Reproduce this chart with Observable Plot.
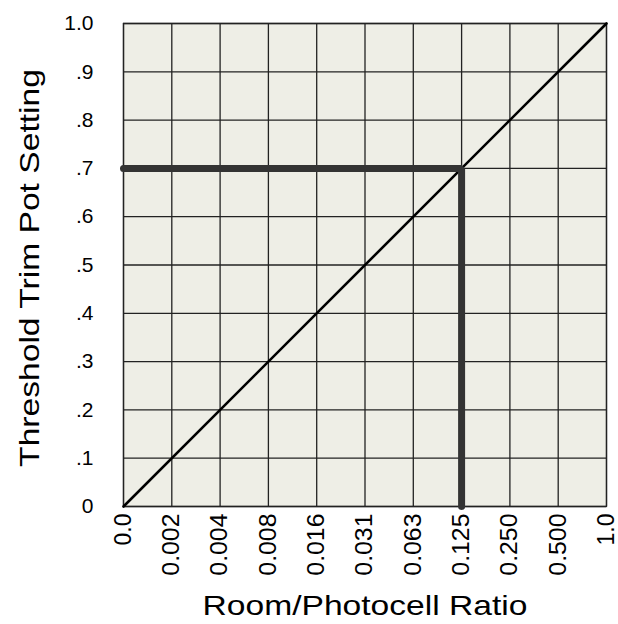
<!DOCTYPE html>
<html>
<head>
<meta charset="utf-8">
<script src="https://cdn.jsdelivr.net/npm/d3@7"></script>
<script src="https://cdn.jsdelivr.net/npm/@observablehq/plot@0.6"></script>
<style>
  html, body { margin: 0; padding: 0; background: #fff; }
  svg { font-family: "Liberation Sans", Arial, sans-serif; }
</style>
</head>
<body>
<div id="chart"></div>
<script>
// Categories along the x axis (equally spaced, log-2 ratio steps)
const xLabels = ["0.0", "0.002", "0.004", "0.008", "0.016", "0.031", "0.063", "0.125", "0.250", "0.500", "1.0"];
// Y tick values and their labels
const yTicks = [0, 0.1, 0.2, 0.3, 0.4, 0.5, 0.6, 0.7, 0.8, 0.9, 1.0];
const yLabels = ["0", ".1", ".2", ".3", ".4", ".5", ".6", ".7", ".8", ".9", "1.0"];
// Axis titles
const yTitle = "Threshold Trim Pot Setting";
const xTitle = "Room/Photocell Ratio";
// Diagonal calibration line (x index, y setting)
const diagX = [0, 10];
const diagY = [0, 1];
// Example read-out path: from the y axis at .7 across to ratio 0.125, then down
const readX = [0, 7, 7];
const readY = [0.7, 0.7, 0];

const xIdx = xLabels.map((_, i) => i);
const diagonal = diagX.map((x, i) => ({x, y: diagY[i]}));
const readout = readX.map((x, i) => ({x, y: readY[i]}));

const chart = Plot.plot({
  width: 618,
  height: 624,
  marginLeft: 123,
  marginRight: 12,
  marginTop: 23,
  marginBottom: 118,
  style: {fontFamily: "'Liberation Sans', Arial, sans-serif", background: "#fff", color: "#000"},
  x: {domain: [0, 10], label: null},
  y: {domain: [0, 1], label: null},
  marks: [
    Plot.frame({fill: "#eeeee6", stroke: null}),
    Plot.gridX(xIdx, {stroke: "#222", strokeOpacity: 1, strokeWidth: 1.3}),
    Plot.gridY(yTicks, {stroke: "#222", strokeOpacity: 1, strokeWidth: 1.3}),
    Plot.frame({stroke: "#222", strokeWidth: 1.3}),
    Plot.line(diagonal, {x: "x", y: "y", stroke: "#000", strokeWidth: 2.6}),
    Plot.line(readout, {x: "x", y: "y", stroke: "#333", strokeWidth: 7, strokeLinecap: "round", strokeLinejoin: "miter"}),
    Plot.axisX({ticks: xIdx, tickFormat: i => xLabels[i], tickRotate: -90, tickSize: 0, tickPadding: 7, label: null, fontSize: 23, fill: "#000"}),
    Plot.axisY({ticks: yTicks, tickFormat: d => yLabels[yTicks.indexOf(d)], tickSize: 0, tickPadding: 30, label: null, fontSize: 21, fill: "#000"}),
    Plot.text([yTitle], {frameAnchor: "left", textAnchor: "middle", lineAnchor: "middle", dx: -93, dy: 3, rotate: -90, fontSize: 28, fill: "#000"}),
    Plot.text([xTitle], {frameAnchor: "bottom", textAnchor: "middle", lineAnchor: "middle", dy: 100, fontSize: 28, fill: "#000"})
  ]
});
document.getElementById("chart").appendChild(chart);

// widen glyphs along the reading direction to match the reference's stretched lettering
function stretch(match, sx) {
  chart.querySelectorAll("text").forEach(function(el) {
    if (!match(el.textContent)) return;
    const len = el.getComputedTextLength();
    if (len > 0) {
      el.setAttribute("textLength", (len * sx).toFixed(1));
      el.setAttribute("lengthAdjust", "spacingAndGlyphs");
    }
  });
}
stretch(t => t === yTitle || t === xTitle, 1.2);
stretch(t => xLabels.includes(t) && t !== "1.0" && t !== "0.0" ? true : false, 1.08);
</script>
</body>
</html>
